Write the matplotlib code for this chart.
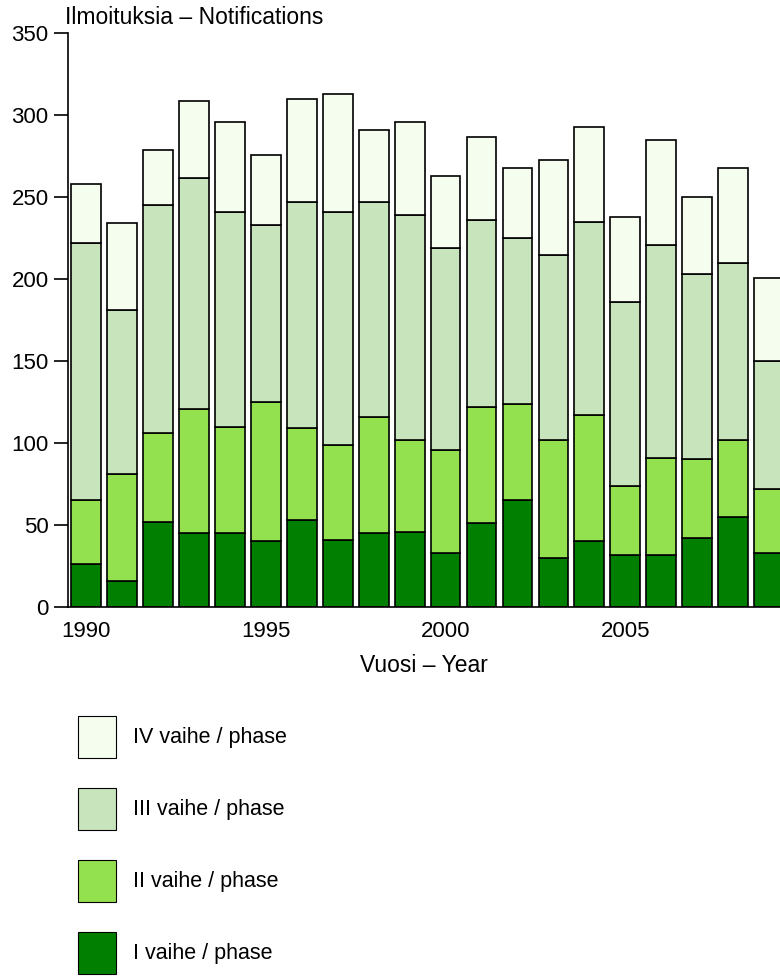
import matplotlib.pyplot as plt
from matplotlib.patches import Patch

years = list(range(1990, 2010))
phase1 = [26, 16, 52, 45, 45, 40, 53, 41, 45, 46, 33, 51, 65, 30, 40, 32, 32, 42, 55, 33]
phase2 = [39, 65, 54, 76, 65, 85, 56, 58, 71, 56, 63, 71, 59, 72, 77, 42, 59, 48, 47, 39]
phase3 = [157, 100, 139, 141, 131, 108, 138, 142, 131, 137, 123, 114, 101, 113, 118, 112, 130, 113, 108, 78]
phase4 = [36, 53, 34, 47, 55, 43, 63, 72, 44, 57, 44, 51, 43, 58, 58, 52, 64, 47, 58, 51]
labels = ["I vaihe / phase", "II vaihe / phase", "III vaihe / phase", "IV vaihe / phase"]
colors = ["#007f00", "#94e150", "#c8e4bc", "#f5fdee"]

plt.rcParams['font.family'] = ['Liberation Sans', 'DejaVu Sans']

W, H = 780, 977
fig = plt.figure(figsize=(7.8, 9.77), dpi=100)
ax = fig.add_axes([68 / W, 370 / H, 1 - 68 / W, 573.7 / H])

bottom = [0] * len(years)
handles = []
for vals, col, lab in zip([phase1, phase2, phase3, phase4], colors, labels):
    ax.bar(years, vals, bottom=bottom, width=0.83, color=col,
           edgecolor="black", linewidth=1.2, label=lab)
    bottom = [b + v for b, v in zip(bottom, vals)]
    handles.append(Patch(facecolor=col, edgecolor="black", linewidth=0.8))

ax.set_xlim(1989.5, 2009.3)
ax.set_ylim(0, 350)
ax.set_yticks(range(0, 351, 50))
ax.set_xticks([1990, 1995, 2000, 2005])
for s in ["top", "right"]:
    ax.spines[s].set_visible(False)
ax.spines["left"].set_linewidth(1.2)
ax.spines["bottom"].set_linewidth(1.2)
ax.tick_params(axis="y", length=10, width=1.2, labelsize=16, pad=4)
ax.tick_params(axis="x", length=0, labelsize=16, pad=10)
ax.set_xlabel("Vuosi – Year", fontsize=16.5, labelpad=9)
fig.text(65 / W, 1 - 18 / H, "Ilmoituksia – Notifications", fontsize=16.5,
         ha="left", va="center")

# legend: patches 38 x 42 px, pitch 72 px
fs = 15.5
fpx = fs * 100 / 72
hh = (42 / fpx - 0.245) / 0.65
leg = fig.legend(handles[::-1], labels[::-1], loc="upper left",
                 bbox_to_anchor=(78 / W, 1 - 716 / H), frameon=False,
                 borderaxespad=0, borderpad=0,
                 fontsize=fs, handlelength=38 / fpx, handleheight=hh,
                 labelspacing=30 / fpx, handletextpad=17 / fpx)

fig.savefig("out.png", dpi=100)
